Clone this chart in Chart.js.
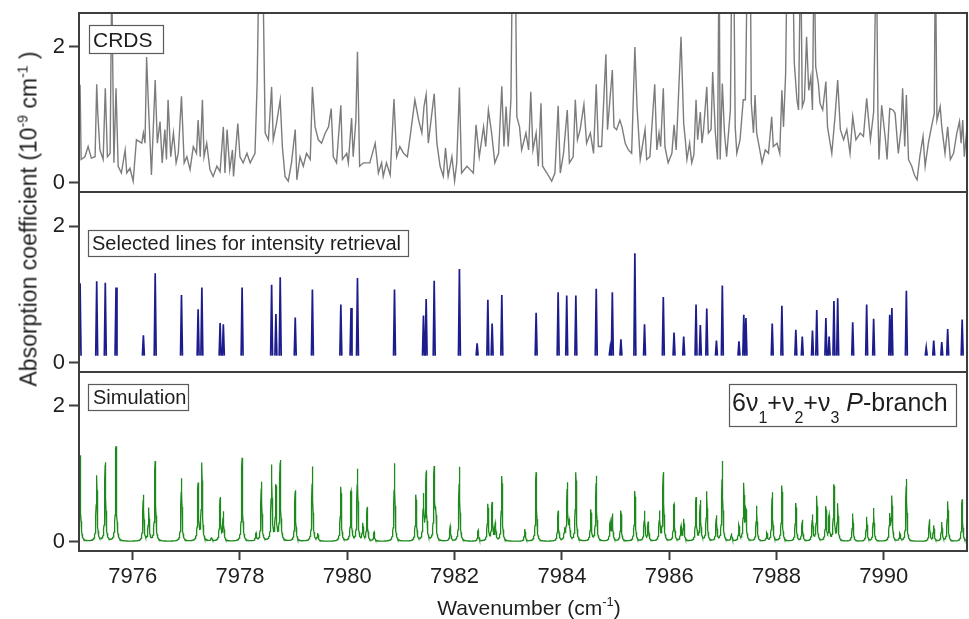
<!DOCTYPE html>
<html>
<head>
<meta charset="utf-8">
<title>6v1+v2+v3 P-branch</title>
<script src="https://cdn.jsdelivr.net/npm/chart.js@4.4.0/dist/chart.umd.min.js"></script>
<style>
  html, body { margin: 0; padding: 0; background: #fff; }
  #wrap { position: relative; width: 969px; height: 619px; overflow: hidden;
          font-family: "Liberation Sans", Arial, Helvetica, sans-serif; }
  canvas { position: absolute; left: 0; }
  #yTitle { position: absolute; left: 29px; top: 219px; transform: translate(-50%, -50%) rotate(-90deg);
            white-space: nowrap; font-size: 23px; line-height: 1; color: #1e1e1e; }
  #yTitle sup { font-size: 14px; position: relative; top: -9px; vertical-align: baseline; }
</style>
</head>
<body>
<div id="wrap">
  <canvas id="crdsChart" width="969" height="200" style="top:0px"></canvas>
  <canvas id="selectedChart" width="969" height="200" style="top:182px"></canvas>
  <canvas id="simChart" width="969" height="257" style="top:362px"></canvas>
  <div id="yTitle">Absorption coefficient (10<sup>-9</sup> cm<sup>-1</sup> )</div>
</div>
<script>
// Axis ranges and tick labels
const xMin = 7975;
const xMax = 7991.55;
const yMin = -0.14;
const yMax = 2.5;
const xTickValues = [7976, 7978, 7980, 7982, 7984, 7986, 7988, 7990];
const yTickValues = [0, 2];

// Measured cavity ring-down trace (10^-9 cm^-1); peaks above 2.5 run off the panel
const crdsX = [
  7975.00, 7975.02, 7975.04, 7975.11, 7975.17, 7975.23, 7975.30, 7975.33, 7975.35, 7975.39, 7975.45,
  7975.49, 7975.53, 7975.58, 7975.61, 7975.65, 7975.69, 7975.73, 7975.79, 7975.86, 7975.89,
  7975.95, 7976.01, 7976.07, 7976.17, 7976.20, 7976.23, 7976.26, 7976.29, 7976.35, 7976.42,
  7976.46, 7976.51, 7976.55, 7976.60, 7976.63, 7976.66, 7976.71, 7976.76, 7976.81, 7976.85,
  7976.91, 7976.96, 7977.01, 7977.07, 7977.13, 7977.19, 7977.22, 7977.26, 7977.30, 7977.33,
  7977.38, 7977.44, 7977.50, 7977.57, 7977.63, 7977.69, 7977.72, 7977.76, 7977.81, 7977.86,
  7977.88, 7977.96, 7978.00, 7978.06, 7978.13, 7978.19, 7978.28, 7978.32, 7978.36, 7978.42,
  7978.47, 7978.53, 7978.59, 7978.62, 7978.68, 7978.75, 7978.79, 7978.84, 7978.90, 7978.96,
  7979.03, 7979.06, 7979.12, 7979.18, 7979.24, 7979.31, 7979.35, 7979.40, 7979.46, 7979.52,
  7979.59, 7979.65, 7979.70, 7979.74, 7979.80, 7979.88, 7979.91, 7979.99, 7980.02, 7980.08,
  7980.11, 7980.16, 7980.19, 7980.23, 7980.30, 7980.42, 7980.52, 7980.58, 7980.64, 7980.67,
  7980.73, 7980.80, 7980.87, 7980.92, 7980.98, 7981.05, 7981.12, 7981.18, 7981.26, 7981.33,
  7981.39, 7981.43, 7981.47, 7981.51, 7981.62, 7981.67, 7981.73, 7981.79, 7981.83, 7981.88,
  7981.95, 7982.00, 7982.04, 7982.09, 7982.13, 7982.23, 7982.29, 7982.35, 7982.40, 7982.46,
  7982.54, 7982.58, 7982.63, 7982.69, 7982.75, 7982.82, 7982.88, 7982.92, 7982.96, 7983.00,
  7983.05, 7983.08, 7983.13, 7983.16, 7983.21, 7983.25, 7983.33, 7983.38, 7983.42, 7983.46,
  7983.52, 7983.56, 7983.61, 7983.64, 7983.72, 7983.81, 7983.87, 7983.93, 7983.97, 7984.03,
  7984.10, 7984.14, 7984.21, 7984.25, 7984.29, 7984.34, 7984.41, 7984.46, 7984.53, 7984.59,
  7984.64, 7984.68, 7984.74, 7984.82, 7984.85, 7984.94, 7984.97, 7985.02, 7985.08, 7985.12,
  7985.18, 7985.24, 7985.30, 7985.36, 7985.40, 7985.46, 7985.55, 7985.58, 7985.64, 7985.73,
  7985.77, 7985.81, 7985.84, 7985.89, 7985.92, 7985.98, 7986.05, 7986.09, 7986.13, 7986.17,
  7986.22, 7986.27, 7986.30, 7986.33, 7986.38, 7986.42, 7986.46, 7986.50, 7986.53, 7986.58,
  7986.61, 7986.64, 7986.70, 7986.73, 7986.78, 7986.81, 7986.86, 7986.90, 7986.93, 7986.95,
  7986.99, 7987.03, 7987.07, 7987.11, 7987.14, 7987.17, 7987.20, 7987.23, 7987.26, 7987.32,
  7987.38, 7987.42, 7987.46, 7987.51, 7987.53, 7987.57, 7987.60, 7987.63, 7987.70, 7987.73,
  7987.79, 7987.85, 7987.91, 7987.94, 7988.01, 7988.06, 7988.10, 7988.13, 7988.17, 7988.20,
  7988.30, 7988.33, 7988.38, 7988.41, 7988.45, 7988.48, 7988.52, 7988.56, 7988.60, 7988.64,
  7988.67, 7988.70, 7988.73, 7988.78, 7988.81, 7988.86, 7988.92, 7988.95, 7989.03, 7989.09,
  7989.14, 7989.19, 7989.25, 7989.31, 7989.37, 7989.42, 7989.48, 7989.56, 7989.62, 7989.68,
  7989.75, 7989.81, 7989.86, 7989.89, 7989.91, 7989.96, 7990.03, 7990.06, 7990.11, 7990.17,
  7990.21, 7990.27, 7990.32, 7990.35, 7990.39, 7990.42, 7990.46, 7990.52, 7990.57, 7990.62,
  7990.67, 7990.73, 7990.77, 7990.83, 7990.90, 7990.94, 7990.96, 7990.99, 7991.05, 7991.08,
  7991.14, 7991.19, 7991.24, 7991.30, 7991.36, 7991.41, 7991.44, 7991.47, 7991.50, 7991.54,
  7991.58
];
const crdsY = [
  1.10, 1.44, 0.34, 0.38, 0.53, 0.36, 0.38, 1.45, 1.02, 0.48, 0.34,
  1.39, 0.38, 0.43, 3.00, 0.29, 1.39, 0.24, 0.14, 0.48, 0.14,
  0.21, 0.02, 0.63, 0.58, 0.73, 0.58, 1.85, 1.22, 0.11, 1.51,
  0.58, 0.90, 0.29, 0.78, 0.34, 1.22, 0.38, 0.73, 0.29, 0.43,
  1.27, 0.29, 0.38, 0.19, 0.53, 0.43, 0.92, 0.38, 1.22, 0.38,
  0.58, 0.19, 0.09, 0.24, 0.16, 0.82, 0.14, 0.78, 0.19, 0.48,
  0.09, 0.87, 0.38, 0.29, 0.43, 0.29, 0.43, 1.46, 3.50, 3.50,
  0.73, 0.63, 1.41, 0.63, 0.87, 1.22, 0.53, 0.09, 0.02, 0.29,
  0.78, 0.04, 0.38, 0.24, 0.43, 0.34, 1.41, 0.82, 0.63, 0.58,
  0.73, 0.82, 1.09, 0.38, 0.29, 1.14, 0.34, 0.43, 0.29, 0.95,
  0.38, 0.92, 1.93, 0.24, 0.29, 0.29, 0.58, 0.14, 0.29, 0.09,
  0.29, 0.11, 1.23, 0.38, 0.53, 0.43, 0.38, 0.73, 1.22, 0.92,
  0.73, 1.12, 1.30, 0.58, 1.31, 0.58, 0.24, 0.09, 0.51, 0.09,
  0.38, 0.02, 0.29, 1.40, 0.14, 0.24, 0.19, 0.14, 0.85, 0.38,
  0.82, 0.53, 1.07, 0.73, 0.29, 0.43, 1.42, 0.53, 1.12, 0.53,
  1.22, 3.50, 3.50, 0.97, 0.82, 0.48, 0.73, 0.48, 1.34, 0.48,
  0.73, 0.24, 1.17, 0.24, 0.14, 0.02, 0.14, 1.13, 0.14, 0.43,
  1.07, 0.29, 0.38, 1.22, 0.63, 0.78, 1.15, 0.58, 0.73, 0.43,
  1.45, 0.53, 0.53, 1.89, 0.78, 1.66, 0.82, 0.78, 0.92, 0.82,
  0.58, 0.48, 0.43, 2.00, 1.12, 0.34, 0.78, 0.34, 0.38, 1.45,
  0.48, 0.73, 0.53, 1.39, 0.53, 0.29, 0.43, 0.85, 0.48, 1.22,
  2.15, 0.87, 0.63, 0.34, 0.58, 0.29, 0.41, 1.22, 0.63, 1.04,
  0.58, 0.78, 1.41, 0.73, 0.78, 1.63, 0.73, 0.34, 3.50, 0.34,
  1.46, 0.73, 0.38, 0.78, 1.07, 3.50, 3.50, 0.82, 0.43, 0.63,
  1.22, 1.22, 3.50, 3.50, 1.17, 0.73, 1.29, 0.73, 0.43, 0.29,
  0.48, 0.43, 0.97, 0.53, 0.58, 0.43, 1.36, 0.82, 1.61, 3.50,
  3.50, 1.78, 1.22, 1.07, 3.50, 1.12, 1.22, 2.15, 1.36, 1.56,
  1.07, 3.50, 1.71, 1.46, 1.17, 1.07, 1.49, 0.82, 0.43, 0.97,
  1.51, 0.78, 0.63, 0.78, 0.43, 0.97, 0.63, 0.73, 0.68, 1.24,
  0.63, 1.04, 3.50, 1.02, 0.34, 1.14, 0.63, 0.34, 1.09, 1.07,
  1.02, 0.43, 0.78, 1.39, 0.53, 1.29, 0.34, 0.24, 0.11, 0.04,
  0.38, 0.68, 0.24, 0.58, 0.87, 1.02, 3.50, 0.92, 1.12, 0.82,
  0.43, 0.82, 0.34, 0.43, 0.73, 0.90, 0.58, 0.92, 0.38, 0.73,
  0.68
];

// Lines selected for intensity retrieval: position (cm^-1) and peak height
const selPos = [
  7975.02, 7975.33, 7975.49, 7975.69, 7976.20, 7976.42, 7976.91, 7977.22, 7977.29, 7977.63,
  7977.69, 7978.04, 7978.59, 7978.67, 7978.75, 7979.03, 7979.35, 7979.88, 7980.07, 7980.19,
  7980.88, 7981.42, 7981.47, 7981.62, 7982.09, 7982.42, 7982.62, 7982.70, 7982.88, 7983.52,
  7983.93, 7984.09, 7984.26, 7984.64, 7984.90, 7984.94, 7985.10, 7985.36, 7985.54, 7985.89,
  7986.09, 7986.27, 7986.50, 7986.58, 7986.70, 7986.88, 7986.99, 7987.30, 7987.39, 7987.43,
  7987.92, 7988.10, 7988.36, 7988.48, 7988.67, 7988.75, 7988.92, 7988.98, 7989.07, 7989.14,
  7989.42, 7989.68, 7989.81, 7990.11, 7990.15, 7990.42, 7990.79, 7990.93, 7991.08, 7991.19,
  7991.46
];
const selInt = [
  1.16, 1.19, 1.17, 1.10, 0.40, 1.31, 0.99, 0.78, 1.10, 0.58,
  0.56, 1.10, 1.14, 0.71, 1.25, 0.66, 1.07, 0.85, 0.80, 1.24,
  1.07, 0.69, 0.93, 1.20, 1.37, 0.28, 0.92, 0.57, 0.99, 0.73,
  1.03, 0.98, 0.98, 1.08, 0.22, 1.03, 0.34, 1.60, 0.56, 0.96,
  0.44, 0.38, 0.85, 0.55, 0.79, 0.32, 1.13, 0.31, 0.70, 0.65,
  0.57, 0.83, 0.48, 0.38, 0.47, 0.77, 0.65, 0.38, 0.90, 0.94,
  0.59, 0.85, 0.64, 0.70, 0.80, 1.05, 0.22, 0.32, 0.30, 0.49,
  0.63
];

// Simulated line list for the 6v1+v2+v3 P-branch: position (cm^-1) and peak height
const simPos = [
  7975.02, 7975.33, 7975.49, 7975.69, 7976.20, 7976.30, 7976.42, 7976.91, 7977.22, 7977.29,
  7977.47, 7977.63, 7977.69, 7978.04, 7978.30, 7978.40, 7978.59, 7978.67, 7978.75, 7979.03,
  7979.35, 7979.45, 7979.88, 7980.07, 7980.19, 7980.29, 7980.37, 7980.50, 7980.88, 7981.28,
  7981.42, 7981.47, 7981.62, 7981.65, 7981.92, 7982.09, 7982.44, 7982.62, 7982.70, 7982.76,
  7982.88, 7983.31, 7983.52, 7983.93, 7984.05, 7984.10, 7984.14, 7984.26, 7984.54, 7984.64,
  7984.90, 7984.94, 7985.10, 7985.36, 7985.54, 7985.61, 7985.82, 7985.89, 7986.09, 7986.22,
  7986.27, 7986.50, 7986.58, 7986.70, 7986.88, 7986.99, 7987.16, 7987.30, 7987.39, 7987.43,
  7987.63, 7987.82, 7987.92, 7988.10, 7988.36, 7988.48, 7988.67, 7988.75, 7988.92, 7988.98,
  7989.07, 7989.14, 7989.42, 7989.68, 7989.81, 7990.11, 7990.15, 7990.30, 7990.42, 7990.85,
  7990.93, 7991.08, 7991.19, 7991.46
];
const simInt = [
  1.27, 0.97, 1.16, 1.40, 0.68, 0.48, 1.18, 0.93, 0.84, 1.14,
  0.05, 0.64, 0.42, 1.23, 0.11, 0.87, 1.11, 0.80, 1.18, 0.75,
  1.10, 0.11, 0.80, 0.73, 1.06, 0.25, 0.50, 0.13, 1.15, 0.68,
  0.66, 1.01, 1.06, 0.38, 0.23, 1.10, 0.16, 0.54, 0.56, 0.26,
  0.96, 0.18, 1.02, 0.45, 0.16, 0.84, 0.25, 1.01, 0.46, 0.96,
  0.26, 0.39, 0.45, 0.74, 0.44, 0.28, 0.43, 1.01, 0.54, 0.21,
  0.32, 0.64, 0.59, 0.73, 0.37, 1.18, 0.11, 0.23, 0.83, 0.43,
  0.52, 0.12, 0.72, 0.82, 0.56, 0.31, 0.38, 0.66, 0.50, 0.36,
  0.82, 0.54, 0.41, 0.36, 0.49, 0.37, 0.65, 0.11, 0.92, 0.32,
  0.23, 0.28, 0.59, 0.62
];

const FONT = '"Liberation Sans", Arial, Helvetica, sans-serif';
const INK = '#1e1e1e';
const FRAME = '#3d3d3d';

// Each selected line is drawn as a narrow spike standing on a small pedestal
function stickPoints(pos, hts, base, halfWidth) {
  const pts = [];
  pos.forEach((p, i) => {
    pts.push({ x: p - halfWidth, y: base }, { x: p, y: hts[i] }, { x: p + halfWidth, y: base },
             { x: p + halfWidth, y: null });
  });
  return pts;
}

// Lorentzian profile summed over a line list
function lorentzProfile(pos, hts, hwhm, step) {
  const xs = pos.slice();
  for (let x = xMin; x <= xMax; x += step) xs.push(x);
  xs.sort((a, b) => a - b);
  const g2 = hwhm * hwhm;
  return xs.map(x => {
    let y = 0;
    for (let i = 0; i < pos.length; i++) {
      const d = x - pos[i];
      y += hts[i] * g2 / (g2 + d * d);
    }
    return { x, y };
  });
}

function fontStr(seg) {
  return (seg.italic ? 'italic ' : '') + seg.size + 'px ' + FONT;
}

// Draws a run of text segments (sub/superscripts via dy)
function drawRich(ctx, segs, x, y, align) {
  const widths = segs.map(s => { ctx.font = fontStr(s); return ctx.measureText(s.t).width; });
  const total = widths.reduce((a, b) => a + b, 0);
  let cx = align === 'center' ? x - total / 2 : x;
  ctx.textAlign = 'left';
  ctx.textBaseline = 'alphabetic';
  segs.forEach((s, i) => {
    ctx.font = fontStr(s);
    ctx.fillText(s.t, cx, y + (s.dy || 0));
    cx += widths[i];
  });
}

// Panel frame, label boxes and the bottom axis title
const panelDecor = {
  id: 'panelDecor',
  afterDraw(chart, args, opts) {
    const { ctx, chartArea: a } = chart;
    ctx.save();
    ctx.strokeStyle = FRAME;
    ctx.lineWidth = 2;
    ctx.strokeRect(a.left, a.top, a.right - a.left, a.bottom - a.top);

    (opts.boxes || []).forEach(b => {
      ctx.strokeStyle = '#5a5a5a';
      ctx.lineWidth = 1.2;
      ctx.fillStyle = '#fff';
      ctx.fillRect(a.left + b.dx, a.top + b.dy, b.w, b.h);
      ctx.strokeRect(a.left + b.dx + 0.5, a.top + b.dy + 0.5, b.w, b.h);
      ctx.fillStyle = INK;
      drawRich(ctx, b.segs, a.left + b.dx + b.padX, a.top + b.dy + b.base, 'left');
    });

    if (opts.xTitle) {
      ctx.fillStyle = INK;
      drawRich(ctx, [
        { t: 'Wavenumber (cm', size: 21 },
        { t: '-1', size: 13, dy: -9 },
        { t: ')', size: 21 }
      ], opts.xTitle.x, opts.xTitle.y, 'center');
    }
    ctx.restore();
  }
};

function makePanel(canvasId, dataset, padding, decor, showX) {
  const xScale = {
    type: 'linear',
    min: xMin,
    max: xMax,
    display: showX,
    border: { display: false },
    grid: { drawOnChartArea: false, drawTicks: true, tickLength: 9, tickWidth: 2, tickColor: FRAME },
    ticks: {
      font: { family: FONT, size: 22 },
      color: INK,
      padding: 4,
      maxRotation: 0,
      autoSkip: false,
      callback: v => String(v)
    },
    afterBuildTicks: scale => { scale.ticks = xTickValues.map(v => ({ value: v })); }
  };
  if (showX) {
    xScale.afterFit = scale => {
      scale.height = 68;
      scale.paddingLeft = 0;
      scale.paddingRight = 0;
    };
  }

  return new Chart(document.getElementById(canvasId), {
    type: 'line',
    data: { datasets: [dataset] },
    options: {
      responsive: false,
      animation: false,
      events: [],
      spanGaps: false,
      layout: { padding },
      elements: { point: { radius: 0 }, line: { tension: 0 } },
      plugins: {
        legend: { display: false },
        tooltip: { enabled: false },
        panelDecor: decor
      },
      scales: {
        x: xScale,
        y: {
          type: 'linear',
          min: yMin,
          max: yMax,
          border: { display: false },
          grid: { drawOnChartArea: false, drawTicks: true, tickLength: 10, tickWidth: 2, tickColor: FRAME },
          ticks: { font: { family: FONT, size: 22 }, color: INK, padding: 4 },
          afterBuildTicks: scale => { scale.ticks = yTickValues.map(v => ({ value: v })); },
          afterFit: scale => {
            // fixed gutter, and keep the tick labels from pushing the plot area around
            scale.width = 79;
            scale.paddingTop = 0;
            scale.paddingBottom = 0;
          }
        }
      }
    },
    plugins: [panelDecor]
  });
}

makePanel('crdsChart', {
  data: crdsX.map((x, i) => ({ x, y: crdsY[i] })),
  borderColor: '#7c7c7c',
  borderWidth: 1.4
}, { left: 0, right: 2, top: 13, bottom: 8 }, {
  boxes: [{ dx: 10, dy: 12, w: 74, h: 28, padX: 4, base: 22, segs: [{ t: 'CRDS', size: 21 }] }]
}, false);

makePanel('selectedChart', {
  data: stickPoints(selPos, selInt, 0.1, 0.018),
  borderColor: '#1c1c8c',
  borderWidth: 1.7
}, { left: 0, right: 2, top: 10, bottom: 10 }, {
  boxes: [{ dx: 9, dy: 38, w: 320, h: 26, padX: 4, base: 20,
            segs: [{ t: 'Selected lines for intensity retrieval', size: 20 }] }]
}, false);

makePanel('simChart', {
  data: lorentzProfile(simPos, simInt, 0.011, 0.004),
  borderColor: '#1e8a1e',
  borderWidth: 1.3
}, { left: 0, right: 2, top: 10, bottom: 0 }, {
  boxes: [
    { dx: 9, dy: 12, w: 100, h: 26, padX: 5, base: 20, segs: [{ t: 'Simulation', size: 20 }] },
    { dx: 650, dy: 12, w: 227, h: 42, padX: 3, base: 27, segs: [
      { t: '6\u03bd', size: 25 }, { t: '1', size: 16, dy: 12 },
      { t: '+\u03bd', size: 25 }, { t: '2', size: 16, dy: 12 },
      { t: '+\u03bd', size: 25 }, { t: '3', size: 16, dy: 12 },
      { t: ' ', size: 25 }, { t: 'P', size: 25, italic: true }, { t: '-branch', size: 25 }
    ] }
  ],
  xTitle: { x: 529, y: 253 }
}, true);
</script>
</body>
</html>
